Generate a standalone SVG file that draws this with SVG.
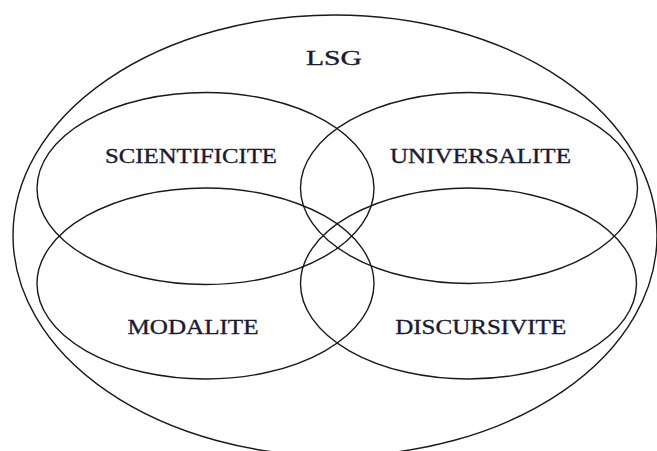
<svg xmlns="http://www.w3.org/2000/svg" width="657" height="451" viewBox="0 0 657 451">
<style>
.e{fill:none;stroke:#1a1a1a;stroke-width:1.4}
.t{font-family:"Liberation Serif","Times New Roman",serif;font-size:21px;fill:#1a1a33;stroke:#1a1a33;stroke-width:0.35;text-anchor:middle}
</style>
<rect width="657" height="451" fill="#fff"/>
<g id="lsg">
<ellipse class="e" cx="335" cy="235.5" rx="322" ry="220.5"/>
<text class="t" x="334" y="65" textLength="56" lengthAdjust="spacingAndGlyphs">LSG</text>
</g>
<g id="scientificite">
<ellipse class="e" cx="205.5" cy="188.5" rx="168.5" ry="96"/>
<text class="t" x="191" y="163" textLength="172" lengthAdjust="spacingAndGlyphs">SCIENTIFICITE</text>
</g>
<g id="universalite">
<ellipse class="e" cx="469" cy="188" rx="168.5" ry="95.5"/>
<text class="t" x="480.5" y="163" textLength="181" lengthAdjust="spacingAndGlyphs">UNIVERSALITE</text>
</g>
<g id="modalite">
<ellipse class="e" cx="205.5" cy="283.5" rx="168.5" ry="95.5"/>
<text class="t" x="193" y="334" textLength="131" lengthAdjust="spacingAndGlyphs">MODALITE</text>
</g>
<g id="discursivite">
<ellipse class="e" cx="468.5" cy="283.5" rx="168" ry="95.5"/>
<text class="t" x="480.7" y="334" textLength="171" lengthAdjust="spacingAndGlyphs">DISCURSIVITE</text>
</g>
<g id="connectors"/>
</svg>
